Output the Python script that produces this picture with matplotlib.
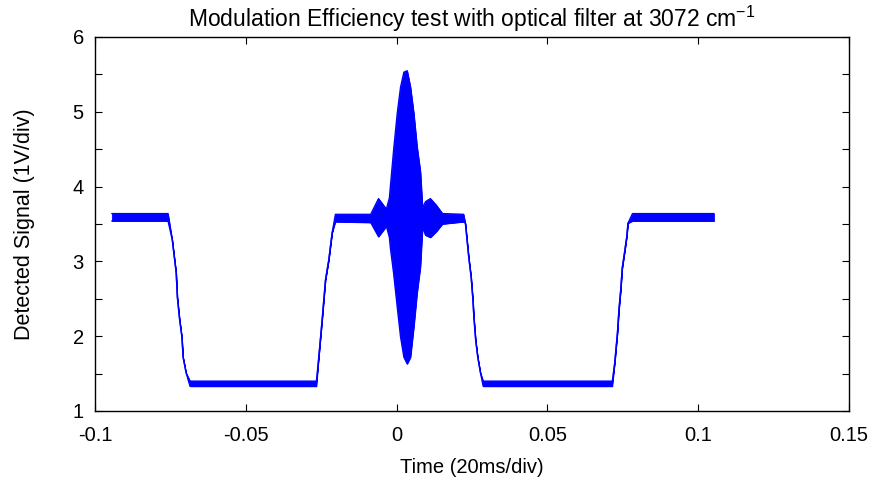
import matplotlib
matplotlib.use("Agg")
import matplotlib.pyplot as plt
import numpy as np

plt.rcParams['font.family'] = ['Liberation Sans', 'DejaVu Sans']
plt.rcParams['mathtext.fontset'] = 'custom'
plt.rcParams['mathtext.rm'] = 'Liberation Sans'
plt.rcParams['mathtext.default'] = 'regular'

# trace: time (s), upper and lower edge of the
# noise band / fringe envelope (V). hi == lo on the edges of the chopper.
sig_t = [-0.0944, -0.0758, -0.0744, -0.0731, -0.0727, -0.0720, -0.0712,
         -0.0708, -0.0698, -0.0685, -0.0266, -0.0259, -0.0247, -0.0236,
         -0.0225, -0.0214, -0.0203, -0.0086, -0.0060, -0.0034, -0.0024,
         -0.0021, -0.0010, 0.0002, 0.0013, 0.0024, 0.0035, 0.0046,
         0.0057, 0.0068, 0.0079, 0.0086, 0.0096, 0.0112, 0.0132, 0.0152,
         0.0222, 0.0228, 0.0239, 0.0247, 0.0253, 0.0256, 0.0262, 0.0269,
         0.0278, 0.0287, 0.0715, 0.0723, 0.0732, 0.0737, 0.0743, 0.0748,
         0.0756, 0.0763, 0.0767, 0.0782, 0.1052]
sig_hi = [3.64, 3.64, 3.29, 2.85, 2.52, 2.24, 1.99,
          1.72, 1.51, 1.40, 1.40, 1.68, 2.22, 2.75,
          3.02, 3.38, 3.63, 3.63, 3.84, 3.70, 3.85,
          3.99, 4.49, 4.98, 5.33, 5.53, 5.55, 5.33,
          4.98, 4.53, 4.20, 3.72, 3.80, 3.84, 3.75, 3.64,
          3.63, 3.51, 3.06, 2.79, 2.48, 2.26, 1.95, 1.72,
          1.51, 1.40, 1.40, 1.64, 2.04, 2.35, 2.62, 2.91,
          3.13, 3.33, 3.51, 3.64, 3.64]
sig_lo = [3.54, 3.54, 3.29, 2.85, 2.52, 2.24, 1.99,
          1.72, 1.51, 1.33, 1.33, 1.68, 2.22, 2.75,
          3.02, 3.38, 3.53, 3.52, 3.33, 3.47, 3.32,
          3.19, 2.84, 2.39, 1.99, 1.72, 1.63, 1.72,
          2.12, 2.58, 2.93, 3.45, 3.35, 3.32, 3.40, 3.50,
          3.53, 3.51, 3.06, 2.79, 2.48, 2.26, 1.95, 1.72,
          1.51, 1.33, 1.33, 1.64, 2.04, 2.35, 2.62, 2.91,
          3.13, 3.33, 3.51, 3.54, 3.54]

x_ticks = [-0.1, -0.05, 0, 0.05, 0.1, 0.15]
x_labels = ['-0.1', '-0.05', '0', '0.05', '0.1', '0.15']
y_ticks = [1, 1.5, 2, 2.5, 3, 3.5, 4, 4.5, 5, 5.5, 6]
y_labels = ['1', '', '2', '', '3', '', '4', '', '5', '', '6']

fig = plt.figure(figsize=(8.73, 4.78), dpi=100)
ax = fig.add_axes([0.1088, 0.1402, 0.8637, 0.7824])

blue = (0, 0, 1)
ax.fill_between(sig_t, sig_lo, sig_hi, color=blue, lw=0.6)
ax.plot(sig_t, sig_hi, color=blue, lw=0.9)
ax.plot(sig_t, sig_lo, color=blue, lw=0.9)

ax.set_xlim(-0.1, 0.15)
ax.set_ylim(1, 6)
ax.set_xticks(x_ticks)
ax.set_xticklabels(x_labels)
ax.set_yticks(y_ticks)
ax.set_yticklabels(y_labels)
ax.tick_params(direction='in', length=5, width=0.8, top=True, right=True,
               labelsize=14.5)
ax.tick_params(axis='x', pad=11)
ax.tick_params(axis='y', pad=8)
for s in ax.spines.values():
    s.set_linewidth(1.0)

ax.set_title('Modulation Efficiency test with optical filter at 3072 cm$^{-1}$',
             fontsize=16.5, pad=7)
ax.set_xlabel('Time (20ms/div)', fontsize=14.5, labelpad=9)
ax.set_ylabel('Detected Signal (1V/div)', fontsize=15.5, labelpad=27)

fig.savefig('out.png', dpi=100)
